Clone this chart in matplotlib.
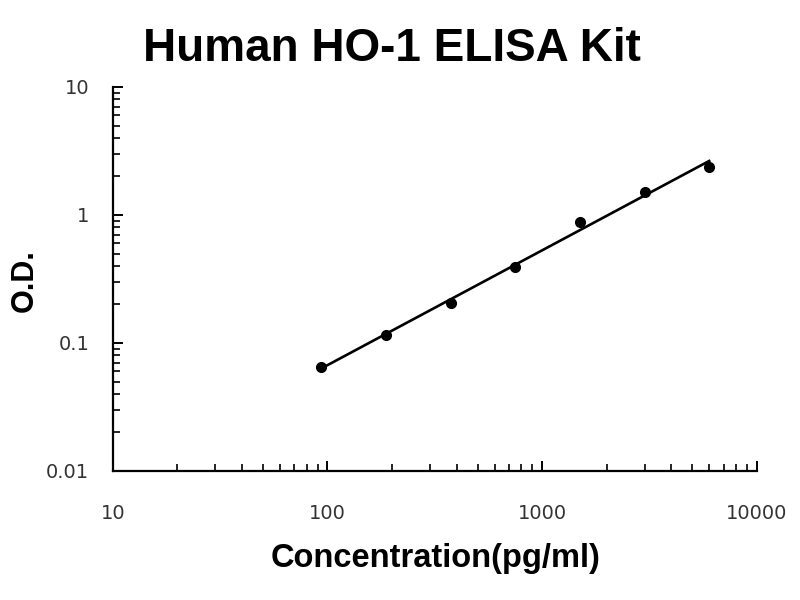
import numpy as np
import matplotlib
matplotlib.use("Agg")
import matplotlib.pyplot as plt
from matplotlib.ticker import LogLocator, FixedLocator, NullFormatter

# Data
concentration = [93.75, 187.5, 375, 750, 1500, 3000, 6000]
od = [0.065, 0.115, 0.206, 0.394, 0.876, 1.51, 2.39]
x_ticks = [10, 100, 1000, 10000]
x_tick_labels = ["10", "100", "1000", "10000"]
y_ticks = [0.01, 0.1, 1, 10]
y_tick_labels = ["0.01", "0.1", "1", "10"]

fig = plt.figure(figsize=(8, 6), dpi=100)
ax = fig.add_axes([0.141, 0.215, 0.805, 0.64])

ax.set_xscale("log")
ax.set_yscale("log")
ax.set_xlim(10, 10000)
ax.set_ylim(0.01, 10)

# power-law trend line fitted in log-log space
lx = np.log10(concentration)
ly = np.log10(od)
slope, intercept = np.polyfit(lx, ly, 1)
xf = np.array([concentration[0], concentration[-1]])
yf = 10 ** (intercept + slope * np.log10(xf))
ax.plot(xf, yf, color="black", lw=1.9, zorder=2)
ax.plot(concentration, od, "o", color="black", ms=7, zorder=3)

for s in ["top", "right"]:
    ax.spines[s].set_visible(False)
for s in ["left", "bottom"]:
    ax.spines[s].set_linewidth(1.6)

ax.xaxis.set_major_locator(FixedLocator(x_ticks))
ax.set_xticklabels(x_tick_labels)
ax.yaxis.set_major_locator(FixedLocator(y_ticks))
ax.set_yticklabels(y_tick_labels)
ax.xaxis.set_minor_locator(LogLocator(base=10, subs=np.arange(2, 10)))
ax.yaxis.set_minor_locator(LogLocator(base=10, subs=np.arange(2, 10)))
ax.xaxis.set_minor_formatter(NullFormatter())
ax.yaxis.set_minor_formatter(NullFormatter())

ax.tick_params(axis="both", which="major", direction="in", length=7, width=1.4,
               labelsize=14, labelcolor="#333333")
ax.tick_params(axis="both", which="minor", direction="in", length=5, width=1.2)
ax.tick_params(axis="x", which="major", pad=24)
ax.tick_params(axis="y", which="major", pad=17)

for lab in ax.get_xticklabels() + ax.get_yticklabels():
    lab.set_family("DejaVu Sans")

fig.text(0.545, 0.055, "Concentration(pg/ml)", ha="center", va="baseline",
         fontsize=23.5, fontweight="bold", family="Liberation Sans")
fig.text(0.050, 0.532, "O.D.", ha="right", va="center", rotation=90,
         fontsize=22, fontweight="bold", family="Liberation Sans")
fig.text(0.49, 0.898, "Human HO-1 ELISA Kit", ha="center", va="baseline",
         fontsize=33, fontweight="bold", family="Liberation Sans")

fig.savefig("out.png", dpi=100)
